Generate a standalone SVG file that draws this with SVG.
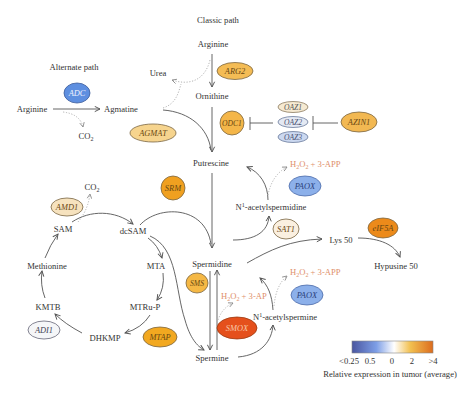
<svg xmlns="http://www.w3.org/2000/svg" width="474" height="396" viewBox="0 0 474 396">
<style>
.t{font-family:"Liberation Serif","Times New Roman",serif;font-size:8.6px;fill:#333;text-anchor:middle}
.tl{font-family:"Liberation Serif","Times New Roman",serif;font-size:8.6px;fill:#e0906a;text-anchor:start}
.e{font-family:"Liberation Serif","Times New Roman",serif;font-size:8.4px;font-style:italic;fill:#6a4812;text-anchor:middle}
.ell{stroke:#7a6440;stroke-width:0.8}
.c{fill:none;stroke:#555;stroke-width:0.9}
.d{fill:none;stroke:#aaa;stroke-width:0.9;stroke-dasharray:1.2,1.6}
.sub{font-size:6px}
</style>
<defs>
<marker id="a" viewBox="0 0 8 8" refX="7" refY="4" markerWidth="7" markerHeight="7" markerUnits="userSpaceOnUse" orient="auto">
<path d="M1,1 L7,4 L1,7" fill="none" stroke="#555" stroke-width="1.1"/>
</marker>
<marker id="ad" viewBox="0 0 8 8" refX="7" refY="4" markerWidth="6" markerHeight="6" markerUnits="userSpaceOnUse" orient="auto">
<path d="M1,1 L7,4 L1,7" fill="none" stroke="#888" stroke-width="1.1"/>
</marker>
<linearGradient id="g" x1="0" y1="0" x2="1" y2="0">
<stop offset="0" stop-color="#4a56a0"/>
<stop offset="0.3" stop-color="#7d9ee6"/>
<stop offset="0.52" stop-color="#ffffff"/>
<stop offset="0.72" stop-color="#f2c050"/>
<stop offset="1" stop-color="#dc6c1e"/>
</linearGradient>
</defs>

<g id="connectors">
<path class="c" d="M212,54 L212,87" marker-end="url(#a)"/>
<path class="c" d="M212,107 L212,152" marker-end="url(#a)"/>
<path class="c" d="M163,110 C190,112 208,128 211,150" stroke="#4a4a66"/>
<path class="d" d="M210,60 C205,80 190,86 172,80" marker-end="url(#ad)"/>
<path class="d" d="M163,108 C175,104 178,95 181,84"/>
<path class="c" d="M53,109 L100,109" marker-end="url(#a)"/>
<path class="d" d="M63,112 Q80,114 83,127" marker-end="url(#ad)"/>
<path class="c" d="M273,123 L250,123 M250,117 L250,130"/>
<path class="c" d="M338,123 L313,123 M313,116 L313,130"/>
<path class="c" d="M212,173 L212,248" marker-end="url(#a)"/>
<path class="c" d="M140,225 C158,205 205,205 211,244"/>
<path class="c" d="M72,222 C90,210 115,210 133,224" marker-end="url(#a)"/>
<path class="d" d="M78,222 Q88,210 90,194" marker-end="url(#ad)"/>
<path class="c" d="M45,258 Q50,245 58,234" marker-end="url(#a)"/>
<path class="c" d="M148,238 Q158,245 162,258" marker-end="url(#a)"/>
<path class="c" d="M150,236 C178,248 175,290 185,320 C190,338 197,346 204,350" marker-end="url(#a)"/>
<path class="c" d="M163,273 Q165,288 157,300" marker-end="url(#a)"/>
<path class="c" d="M150,315 Q142,328 125,333" marker-end="url(#a)"/>
<path class="c" d="M82,333 Q65,324 55,314" marker-end="url(#a)"/>
<path class="c" d="M45,298 Q40,285 42,271" marker-end="url(#a)"/>
<path class="c" d="M210,271 L210,350" marker-end="url(#a)"/>
<path class="c" d="M217,350 L217,270" marker-end="url(#a)"/>
<path class="c" d="M233,240 C255,240 268,232 269,216" marker-end="url(#a)"/>
<path class="c" d="M268,200 C268,185 260,172 247,167" marker-end="url(#a)"/>
<path class="d" d="M268,195 Q272,175 287,167" marker-end="url(#ad)"/>
<path class="c" d="M247,263 C270,250 290,240 322,239" marker-end="url(#a)"/>
<path class="c" d="M358,238 C380,238 395,245 400,257" marker-end="url(#a)"/>
<path class="c" d="M238,357 C262,355 272,340 273,325" marker-end="url(#a)"/>
<path class="c" d="M273,310 C272,295 268,285 260,278" marker-end="url(#a)"/>
<path class="d" d="M274,306 Q276,285 287,276" marker-end="url(#ad)"/>
<path class="d" d="M218,320 Q222,308 233,303" marker-end="url(#ad)"/>
</g>

<g id="labels">
<text class="t" x="218" y="23">Classic path</text>
<text class="t" x="74" y="70">Alternate path</text>
</g>

<g id="arginine-top"><text class="t" x="213" y="47">Arginine</text></g>
<g id="ornithine"><text class="t" x="212" y="99">Ornithine</text></g>
<g id="arginine-left"><text class="t" x="32" y="112">Arginine</text></g>
<g id="agmatine"><text class="t" x="121" y="112">Agmatine</text></g>
<g id="urea"><text class="t" x="158" y="76">Urea</text></g>
<g id="co2-a"><text class="t" x="86" y="139">CO<tspan class="sub" dy="2">2</tspan></text></g>
<g id="putrescine"><text class="t" x="211" y="166">Putrescine</text></g>
<g id="co2-b"><text class="t" x="92" y="190">CO<tspan class="sub" dy="2">2</tspan></text></g>
<g id="sam"><text class="t" x="63" y="232">SAM</text></g>
<g id="dcsam"><text class="t" x="133" y="234">dcSAM</text></g>
<g id="methionine"><text class="t" x="47" y="269">Methionine</text></g>
<g id="mta"><text class="t" x="156" y="269">MTA</text></g>
<g id="mtrup"><text class="t" x="145" y="310">MTRu-P</text></g>
<g id="kmtb"><text class="t" x="48" y="310">KMTB</text></g>
<g id="dhkmp"><text class="t" x="105" y="341">DHKMP</text></g>
<g id="spermidine"><text class="t" x="212" y="267">Spermidine</text></g>
<g id="spermine"><text class="t" x="212" y="361">Spermine</text></g>
<g id="acetylspermidine"><text class="t" x="271" y="210">N<tspan class="sub" dy="-3">1</tspan><tspan dy="3">-acetylspermidine</tspan></text></g>
<g id="acetylspermine"><text class="t" x="285" y="320">N<tspan class="sub" dy="-3">1</tspan><tspan dy="3">-acetylspermine</tspan></text></g>
<g id="h2o2-a"><text class="tl" x="290" y="167">H<tspan class="sub" dy="2">2</tspan><tspan dy="-2">O</tspan><tspan class="sub" dy="2">2</tspan><tspan dy="-2"> + 3-APP</tspan></text></g>
<g id="h2o2-b"><text class="tl" x="290" y="275">H<tspan class="sub" dy="2">2</tspan><tspan dy="-2">O</tspan><tspan class="sub" dy="2">2</tspan><tspan dy="-2"> + 3-APP</tspan></text></g>
<g id="h2o2-c"><text class="tl" x="221" y="299">H<tspan class="sub" dy="2">2</tspan><tspan dy="-2">O</tspan><tspan class="sub" dy="2">2</tspan><tspan dy="-2"> + 3-AP</tspan></text></g>
<g id="lys50"><text class="t" x="341" y="243">Lys 50</text></g>
<g id="hypusine50"><text class="t" x="396" y="269">Hypusine 50</text></g>

<g id="ARG2"><ellipse class="ell" cx="235" cy="71" rx="18" ry="8.5" fill="#f4bc55"/><text class="e" x="235" y="74">ARG2</text></g>
<g id="ODC1"><ellipse class="ell" cx="232" cy="123" rx="12" ry="12" fill="#f4b649"/><text class="e" x="232" y="126" style="font-size:7.6px">ODC1</text></g>
<g id="OAZ1"><ellipse cx="293" cy="107" rx="15" ry="5.5" fill="#f6ead2" stroke="#8a7a60" stroke-width="0.8"/><text class="e" x="293" y="110" style="font-size:7.6px;fill:#555">OAZ1</text></g>
<g id="OAZ2"><ellipse cx="293" cy="122" rx="15" ry="5.5" fill="#e4e9f3" stroke="#6a7a9a" stroke-width="0.8"/><text class="e" x="293" y="125" style="font-size:7.6px;fill:#4a5070">OAZ2</text></g>
<g id="OAZ3"><ellipse cx="293" cy="137" rx="15" ry="5.5" fill="#cbd8f0" stroke="#6a7a9a" stroke-width="0.8"/><text class="e" x="293" y="140" style="font-size:7.6px;fill:#4a5070">OAZ3</text></g>
<g id="AZIN1"><ellipse class="ell" cx="359" cy="122" rx="18" ry="10" fill="#f2b852"/><text class="e" x="359" y="125">AZIN1</text></g>
<g id="ADC"><ellipse cx="77" cy="93" rx="13" ry="10" fill="#5e8fe0" stroke="#3a5a9a" stroke-width="0.8"/><text class="e" x="77" y="96" style="fill:#eef2ff">ADC</text></g>
<g id="AGMAT"><ellipse class="ell" cx="153" cy="133" rx="23" ry="9" fill="#f6d48e"/><text class="e" x="153" y="136">AGMAT</text></g>
<g id="SRM"><ellipse class="ell" cx="173" cy="188" rx="12" ry="12" fill="#f0a020"/><text class="e" x="173" y="191">SRM</text></g>
<g id="AMD1"><ellipse class="ell" cx="67" cy="207" rx="16" ry="9" fill="#f6e2be"/><text class="e" x="67" y="210">AMD1</text></g>
<g id="PAOX-a"><ellipse cx="305" cy="186" rx="16" ry="10" fill="#8cb0ea" stroke="#4a6aa8" stroke-width="0.8"/><text class="e" x="305" y="189" style="fill:#2a3f7a">PAOX</text></g>
<g id="SAT1"><ellipse class="ell" cx="286" cy="229" rx="13" ry="10" fill="#fbf0e0"/><text class="e" x="286" y="232">SAT1</text></g>
<g id="eIF5A"><ellipse class="ell" cx="383" cy="228" rx="15" ry="10" fill="#ec8a1a"/><text class="e" x="383" y="231">eIF5A</text></g>
<g id="SMS"><ellipse class="ell" cx="197" cy="283" rx="11" ry="10" fill="#f5b845"/><text class="e" x="197" y="286" style="font-size:7.6px">SMS</text></g>
<g id="SMOX"><ellipse cx="237" cy="328" rx="20" ry="11" fill="#e5501c" stroke="#9a3a10" stroke-width="0.8"/><text class="e" x="237" y="331" style="fill:#f8c8a8">SMOX</text></g>
<g id="PAOX-b"><ellipse cx="307" cy="295" rx="16" ry="10" fill="#8cb0ea" stroke="#4a6aa8" stroke-width="0.8"/><text class="e" x="307" y="298" style="fill:#2a3f7a">PAOX</text></g>
<g id="ADI1"><ellipse cx="44" cy="330" rx="16" ry="9" fill="#f5f6f8" stroke="#667" stroke-width="0.8"/><text class="e" x="44" y="333" style="fill:#445">ADI1</text></g>
<g id="MTAP"><ellipse class="ell" cx="160" cy="337" rx="17" ry="10" fill="#f2a820"/><text class="e" x="160" y="340">MTAP</text></g>

<g id="legend">
<rect x="352" y="341" width="81" height="12" fill="url(#g)" stroke="#888" stroke-width="0.6"/>
<text class="t" x="349" y="364">&lt;0.25</text>
<text class="t" x="370" y="364">0.5</text>
<text class="t" x="392" y="364">0</text>
<text class="t" x="412" y="364">2</text>
<text class="t" x="433" y="364">&gt;4</text>
<text class="t" x="390" y="377">Relative expression in tumor (average)</text>
</g>
</svg>
